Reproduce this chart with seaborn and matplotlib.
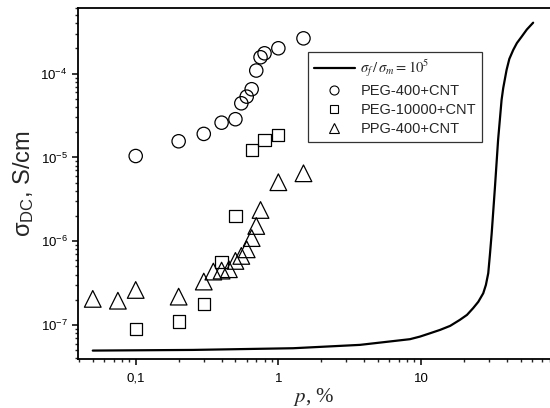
import matplotlib
matplotlib.use('Agg')
import matplotlib.pyplot as plt
import matplotlib.ticker as mticker
from matplotlib.lines import Line2D
import seaborn as sns
import pandas as pd

# PEG-400+CNT
peg400_p = [0.1, 0.2, 0.3, 0.4, 0.5, 0.55, 0.6, 0.65, 0.7, 0.75, 0.8, 1.0, 1.5]
peg400_s = [1.04e-5, 1.56e-5, 1.91e-5, 2.6e-5, 2.86e-5, 4.43e-5, 5.32e-5, 6.52e-5,
            1.09e-4, 1.57e-4, 1.75e-4, 2.01e-4, 2.64e-4]

# PEG-10000+CNT
peg10k_p = [0.1, 0.2, 0.3, 0.4, 0.5, 0.65, 0.8, 1.0]
peg10k_s = [8.9e-8, 1.1e-7, 1.77e-7, 5.7e-7, 2.02e-6, 1.23e-5, 1.62e-5, 1.86e-5]

# PPG-400+CNT
ppg400_p = [0.05, 0.075, 0.1, 0.2, 0.3, 0.35, 0.4, 0.45, 0.5, 0.55, 0.6, 0.65, 0.7, 0.75, 1.0, 1.5]
ppg400_s = [2.05e-7, 1.95e-7, 2.62e-7, 2.18e-7, 3.3e-7, 4.34e-7, 4.46e-7, 4.63e-7,
            5.82e-7, 6.68e-7, 8.0e-7, 1.09e-6, 1.52e-6, 2.36e-6, 5.06e-6, 6.47e-6]

# model curve sigma_f / sigma_m = 1e5
model_p = [0.05, 0.25, 1.27, 3.73, 8.36, 9.83, 11.5, 13.6, 16.0, 18.7, 21.0, 23.2,
           25.2, 27.3, 28.5, 29.6, 30.4, 31.3, 33.0, 34.7, 36.7, 37.7, 39.8, 41.6,
           44.3, 47.0, 50.7, 55.2, 61.1]
model_s = [4.95e-8, 5.04e-8, 5.28e-8, 5.79e-8, 6.77e-8, 7.27e-8, 7.94e-8, 8.74e-8,
           9.76e-8, 1.15e-7, 1.32e-7, 1.59e-7, 1.89e-7, 2.39e-7, 3.01e-7, 4.15e-7,
           6.87e-7, 1.25e-6, 4.48e-6, 1.62e-5, 4.85e-5, 6.75e-5, 1.11e-4, 1.5e-4,
           1.92e-4, 2.32e-4, 2.76e-4, 3.37e-4, 4.06e-4]

xticks = [0.1, 1, 10]
xtick_labels = ['0,1', '1', '10']
yticks = [1e-7, 1e-6, 1e-5, 1e-4]
ytick_labels = [r'$\mathregular{10^{-7}}$', r'$\mathregular{10^{-6}}$',
                r'$\mathregular{10^{-5}}$', r'$\mathregular{10^{-4}}$']

sns.set_style('ticks')
plt.rcParams['font.family'] = ['Liberation Sans', 'DejaVu Sans']
plt.rcParams['mathtext.fontset'] = 'stix'

fig = plt.figure(figsize=(5.5, 4.08), dpi=100)
ax = fig.add_axes([78 / 550, (408 - 358.7) / 408, (550 - 78) / 550, (358.7 - 8) / 408])

model_df = pd.DataFrame({'p': model_p, 's': model_s})
sns.lineplot(data=model_df, x='p', y='s', ax=ax, color='black', linewidth=1.6,
             sort=False, estimator=None)

sns.scatterplot(x=peg400_p, y=peg400_s, ax=ax, marker='o', s=9.6 ** 2,
                facecolor='none', edgecolor='black', linewidth=0.9)
sns.scatterplot(x=peg10k_p, y=peg10k_s, ax=ax, marker='s', s=8.8 ** 2,
                facecolor='none', edgecolor='black', linewidth=0.9)
sns.scatterplot(x=ppg400_p, y=ppg400_s, ax=ax, marker='^', s=12 ** 2,
                facecolor='none', edgecolor='black', linewidth=0.9)

ax.set_xscale('log')
ax.set_yscale('log')
ax.set_xlim(0.0394, 80.2)
ax.set_ylim(3.96e-8, 6.08e-4)

ax.xaxis.set_major_locator(mticker.FixedLocator(xticks))
ax.xaxis.set_major_formatter(mticker.FixedFormatter(xtick_labels))
ax.xaxis.set_minor_locator(mticker.LogLocator(base=10, subs=range(2, 10), numticks=20))
ax.xaxis.set_minor_formatter(mticker.NullFormatter())
ax.yaxis.set_major_locator(mticker.FixedLocator(yticks))
ax.yaxis.set_major_formatter(mticker.FixedFormatter(ytick_labels))
ax.yaxis.set_minor_locator(mticker.LogLocator(base=10, subs=range(2, 10), numticks=20))
ax.yaxis.set_minor_formatter(mticker.NullFormatter())

ax.tick_params(which='major', direction='out', length=4, width=1.1, labelsize=9.5,
               colors='black', top=False, right=False)
ax.tick_params(which='minor', direction='out', length=2.4, width=1.0, top=False, right=False)
ax.tick_params(axis='x', pad=6)

for side in ['left', 'bottom', 'top']:
    ax.spines[side].set_visible(True)
    ax.spines[side].set_color('black')
    ax.spines[side].set_linewidth(1.3)
ax.spines['right'].set_visible(False)

ax.set_xlabel(r'$p$, %', fontfamily='Liberation Serif', fontsize=15, labelpad=1)
ax.set_ylabel(r'$\mathregular{\sigma_{DC}}$, S/cm', fontsize=17, labelpad=3)

handles = [
    Line2D([], [], color='black', linewidth=1.6),
    Line2D([], [], marker='o', linestyle='none', markersize=6.5,
           markerfacecolor='none', markeredgecolor='black', markeredgewidth=0.8),
    Line2D([], [], marker='s', linestyle='none', markersize=6,
           markerfacecolor='none', markeredgecolor='black', markeredgewidth=0.8),
    Line2D([], [], marker='^', linestyle='none', markersize=7,
           markerfacecolor='none', markeredgecolor='black', markeredgewidth=0.8),
]
labels = [r'$\sigma_f\,/\,\sigma_m = 10^5$', 'PEG-400+CNT', 'PEG-10000+CNT', 'PPG-400+CNT']
leg = ax.legend(handles, labels, loc='upper left', bbox_to_anchor=(0.487, 0.875),
                borderaxespad=0, fontsize=10.5, frameon=True, fancybox=False,
                handlelength=2.8, handletextpad=0.4, labelspacing=0.35,
                borderpad=0.4)
leg.get_frame().set_edgecolor('black')
leg.get_frame().set_linewidth(0.9)

fig.savefig('out.png', dpi=100)
